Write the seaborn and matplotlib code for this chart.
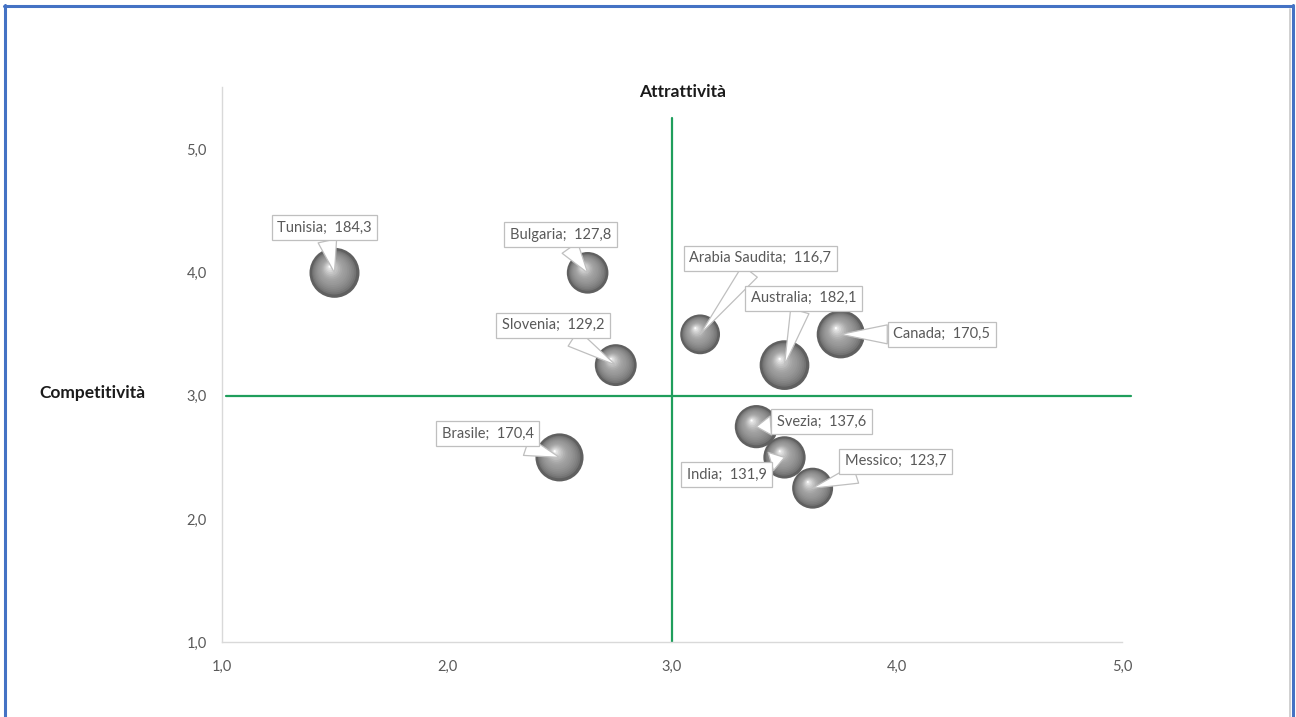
import numpy as np
import pandas as pd
import matplotlib
matplotlib.use("Agg")
import matplotlib.pyplot as plt
import matplotlib.transforms as mtrans
from matplotlib.lines import Line2D
from matplotlib.ticker import FuncFormatter, FixedLocator
import seaborn as sns

# ---------------- data ----------------
countries = ["Tunisia", "Bulgaria", "Slovenia", "Arabia Saudita", "Australia",
             "Canada", "Brasile", "Svezia", "India", "Messico"]
attrattivita = [1.50, 2.625, 2.75, 3.125, 3.50, 3.75, 2.50, 3.375, 3.50, 3.625]
competitivita = [4.00, 4.00, 3.25, 3.50, 3.25, 3.50, 2.50, 2.75, 2.50, 2.25]
valori = [184.3, 127.8, 129.2, 116.7, 182.1, 170.5, 170.4, 137.6, 131.9, 123.7]
x_ticks = [1.0, 2.0, 3.0, 4.0, 5.0]
y_ticks = [1.0, 2.0, 3.0, 4.0, 5.0]
soglia_x = 3.0
soglia_y = 3.0

df = pd.DataFrame({"paese": countries, "x": attrattivita,
                   "y": competitivita, "v": valori})

# ---------------- layout / style ----------------
sns.set_theme(style="white")
plt.rcParams["font.family"] = ["Lato", "DejaVu Sans"]

W, H = 1296, 717
fig = plt.figure(figsize=(W / 100, H / 100), dpi=100)
ax = fig.add_axes([222 / W, (H - 642) / H, 900 / W, (642 - 87) / H])

vmax = max(valori)
vmin = min(valori)
smax = (50 * 0.72) ** 2
sizes = (smax * vmin / vmax, smax)

# base bubbles (dark rim)
sns.scatterplot(data=df, x="x", y="y", size="v", sizes=sizes,
                size_norm=(vmin, vmax), color="#606060", edgecolor="none",
                linewidth=0, legend=False, ax=ax, zorder=3)

# shading layers to mimic the 3D sphere look
base_s = smax * df["v"].to_numpy() / vmax
n = 16
c0 = np.array([0x60, 0x60, 0x60]) / 255
cm = np.array([0x9a, 0x9a, 0x9a]) / 255
c1 = np.array([0xff, 0xff, 0xff]) / 255
for k in range(1, n + 1):
    t = k / n
    f = max((1 - t) * 0.94, 0.04)
    if t < 0.4:
        col = c0 + (cm - c0) * (t / 0.4) ** 0.6
    else:
        col = cm + (c1 - cm) * ((t - 0.4) / 0.6) ** 1.5
    dx = -3.5 * t
    dy = 4.5 * t
    tr = mtrans.offset_copy(ax.transData, fig=fig, x=dx, y=dy, units="points")
    ax.scatter(df["x"], df["y"], s=base_s * f ** 2, color=col,
               edgecolor="none", linewidth=0, transform=tr, zorder=3 + k * 0.01)

# quadrant lines
green = "#1f9e5c"
ax.plot([soglia_x, soglia_x], [1.0, 5.26], color=green, lw=1.6,
        clip_on=False, zorder=2)
ax.plot([1.018, 5.04], [soglia_y, soglia_y], color=green, lw=1.6,
        clip_on=False, zorder=2)

# labels with callouts (offsets in pixels from bubble centre)
label_offsets = {
    "Tunisia": (-10, 45), "Bulgaria": (-27, 38), "Slovenia": (-63, 40),
    "Arabia Saudita": (60, 76), "Australia": (19, 67), "Canada": (101, 0),
    "Brasile": (-72, 24), "Svezia": (65, 5), "India": (-58, -17),
    "Messico": (83, 27),
}
for name, xv, yv, v in zip(countries, attrattivita, competitivita, valori):
    ox, oy = label_offsets[name]
    txt = f"{name};  {v:.1f}".replace(".", ",")
    ax.annotate(txt, xy=(xv, yv), xytext=(ox * 0.72, oy * 0.72),
                textcoords="offset points", ha="center", va="center",
                fontsize=10.5, color="#595959", zorder=10,
                bbox=dict(boxstyle="square,pad=0.38", fc="white",
                          ec="#bfbfbf", lw=0.9),
                arrowprops=dict(arrowstyle="wedge,tail_width=1.3,shrink_factor=0.5",
                                fc="white", ec="#bfbfbf", lw=0.9,
                                shrinkA=0, shrinkB=0))

# axes
ax.set_xlim(1.0, 5.0)
ax.set_ylim(1.0, 5.51)
ax.xaxis.set_major_locator(FixedLocator(x_ticks))
ax.yaxis.set_major_locator(FixedLocator(y_ticks))
fmt = FuncFormatter(lambda v, p: f"{v:.1f}".replace(".", ","))
ax.xaxis.set_major_formatter(fmt)
ax.yaxis.set_major_formatter(fmt)
ax.tick_params(axis="both", length=0, labelsize=10.5, labelcolor="#595959")
ax.tick_params(axis="y", pad=11)
ax.tick_params(axis="x", pad=13)
ax.set_xlabel("")
ax.set_ylabel("")
for s in ["top", "right"]:
    ax.spines[s].set_visible(False)
for s in ["left", "bottom"]:
    ax.spines[s].set_color("#d9d9d9")
    ax.spines[s].set_linewidth(1.0)
ax.grid(False)
ax.set_facecolor("white")

# axis titles
fig.text(683 / W, 1 - 92 / H, "Attrattività", ha="center", va="center",
         fontsize=12.5, fontweight="bold", color="#1a1a1a")
fig.text(92 / W, 1 - 393 / H, "Competitività", ha="center", va="center",
         fontsize=12.5, fontweight="bold", color="#1a1a1a")

# outer frame
blue = "#4472c4"
fig.add_artist(Line2D([5 / W, 5 / W], [0, 1 - 5 / H], color=blue, lw=2.2,
                      transform=fig.transFigure))
fig.add_artist(Line2D([4 / W, 1293 / W], [1 - 6 / H, 1 - 6 / H], color=blue,
                      lw=2.2, transform=fig.transFigure))
fig.add_artist(Line2D([1293 / W, 1293 / W], [0, 1 - 5 / H], color=blue, lw=2.2,
                      transform=fig.transFigure))
fig.add_artist(Line2D([1289.5 / W, 1289.5 / W], [0, 1 - 9 / H], color="#c8c8c8",
                      lw=1.2, transform=fig.transFigure))

fig.savefig("out.png", dpi=100, facecolor="white")
